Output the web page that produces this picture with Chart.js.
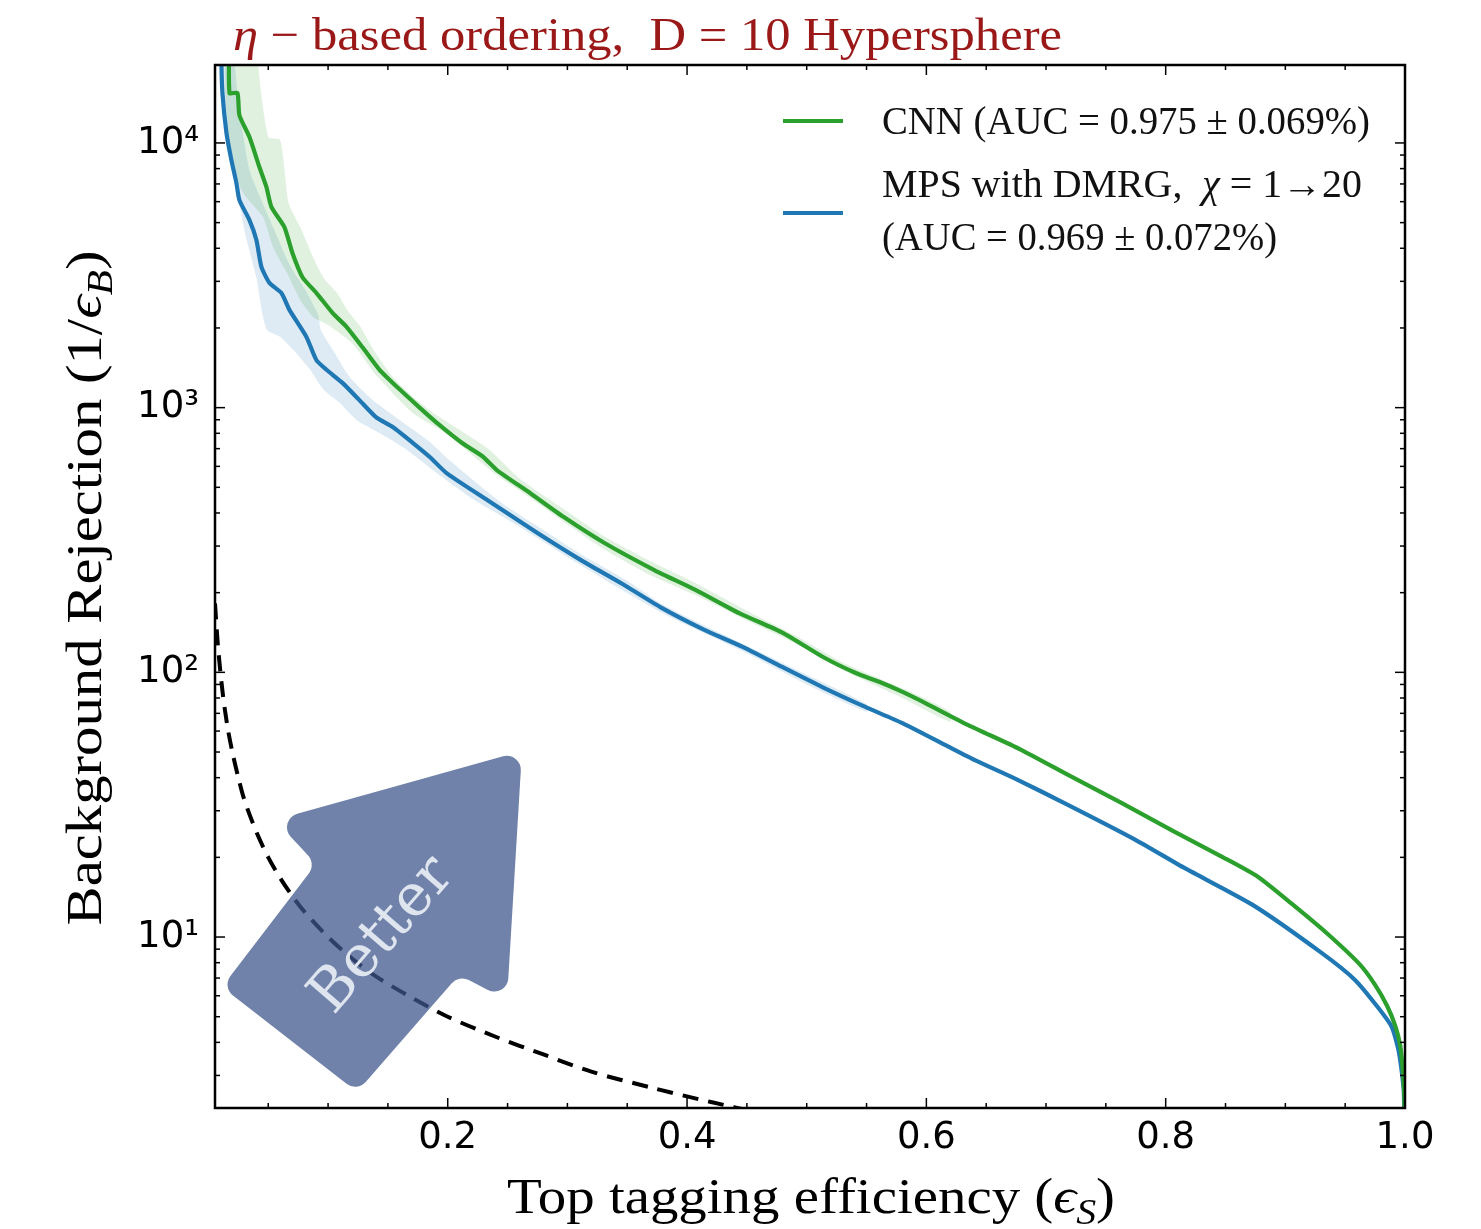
<!DOCTYPE html>
<html><head><meta charset="utf-8">
<script src="https://cdn.jsdelivr.net/npm/chart.js@4.4.0/dist/chart.umd.min.js"></script>
<style>html,body{margin:0;padding:0;background:#fff;}#wrap{width:1481px;height:1229px;position:relative;}</style>
</head><body><div id="wrap"><canvas id="c" width="1481" height="1229"></canvas></div>
<script>
// ---------------- data ----------------
const xTicks = [0.2, 0.4, 0.6, 0.8, 1.0];
const yTicks = [10, 100, 1000, 10000];

const cnnLabel = 'CNN (AUC = 0.975 ± 0.069%)';
const mpsLabel = 'MPS with DMRG,  χ = 1→20 (AUC = 0.969 ± 0.072%)';

const cnnEff = [0.0176,0.0176,0.0242,0.0259,0.0343,0.0426,0.0485,0.0527,0.0635,0.0702,0.0786,0.0903,0.1037,0.1154,0.1288,0.143,0.160,0.176,0.193,0.212,0.229,0.241,0.269,0.297,0.331,0.373,0.407,0.444,0.480,0.514,0.541,0.561,0.581,0.598,0.635,0.678,0.720,0.763,0.806,0.848,0.877,0.905,0.934,0.962,0.975,0.985,0.992,0.996,0.998,0.9995,1.0];
const cnnRej = [30000,15450,15450,12730,10520,8110,6810,5720,4810,3840,3110,2710,2280,2020,1690,1390,1170,1005,860,735,655,581,475,386,308,243,205,167,141,114,99.4,91.9,84,77,63.2,51.3,40.6,32.1,25.2,20.0,16.9,13.4,10.4,7.9,6.6,5.5,4.6,3.9,3.2,2.5,1.0];

const mpsEff = [0.0105,0.0109,0.0117,0.0151,0.0192,0.0234,0.0259,0.0343,0.0401,0.0443,0.0510,0.0610,0.0677,0.0819,0.0903,0.0987,0.112,0.126,0.140,0.154,0.171,0.185,0.199,0.233,0.275,0.311,0.345,0.378,0.414,0.446,0.479,0.513,0.549,0.580,0.618,0.641,0.675,0.717,0.774,0.816,0.873,0.930,0.958,0.977,0.989,0.995,0.999,1.0];
const mpsRej = [30000,19700,15450,10890,8610,7050,6080,5110,4300,3400,2960,2710,2340,1850,1510,1390,1240,1070,921,845,735,651,566,448,336,266,217,176,145,125,105,88,74,64.3,52.5,46.5,39.5,31.8,23.4,18.2,13.2,8.73,6.90,5.45,4.57,3.65,2.6,1.0];

const cnnBandUpEff = [0.0416,0.0416,0.050,0.060,0.067,0.0767,0.0875,0.0959,0.1075,0.116,0.127,0.138,0.154,0.171,0.188,0.210,0.235,0.26,0.30,0.33,0.37,0.41,0.45,0.49,0.53,0.58,0.62];
const cnnBandUpRej = [30000,19700,10520,10250,5930,4810,3700,3110,2710,2340,2020,1650,1305,1097,955,823,692,540,405,328,262,214,171,138,109,87,71];
const cnnBandLoEff = [0.0139,0.0139,0.0197,0.0289,0.0456,0.054,0.0656,0.0767,0.0875,0.10,0.12,0.14,0.17,0.20,0.24,0.27,0.30,0.33,0.37,0.41,0.45,0.49,0.53,0.58,0.62];
const cnnBandLoRej = [30000,15450,8610,6470,5250,4040,3230,2550,2200,2050,1750,1330,960,790,560,453,363,293,232,193,157,129,102,80,65];

const mpsBandUpEff = [0.0222,0.0222,0.026,0.0343,0.0443,0.055,0.068,0.081,0.0918,0.094,0.104,0.118,0.137,0.160,0.183,0.202,0.244,0.28,0.31,0.35,0.38,0.42,0.45,0.50,0.55];
const mpsBandUpRej = [30000,19700,13300,7900,6080,4690,3460,2780,2240,1960,1650,1305,1070,897,755,630,440,345,282,222,180,146,126,98,76];
const mpsBandLoEff = [0.0105,0.0105,0.0113,0.0163,0.024,0.032,0.040,0.045,0.049,0.060,0.071,0.085,0.096,0.110,0.124,0.143,0.166,0.19,0.22,0.26,0.30,0.34,0.38,0.42,0.45,0.50,0.55];
const mpsBandLoRej = [30000,19700,13300,10000,6470,4300,3110,2280,1960,1850,1650,1390,1170,1040,897,802,692,570,455,355,273,212,167,137,118,90,71];

const randomEff = [0.0055,0.008,0.012,0.016,0.02,0.025,0.03,0.04,0.05,0.06,0.07,0.08,0.1,0.12,0.14,0.17,0.2,0.24,0.28,0.32,0.37,0.42,0.46];
const randomRej = [182,125,83,62,50,40,33,25,20,16.7,14.3,12.5,10,8.3,7.1,5.9,5,4.2,3.6,3.1,2.7,2.38,2.17];

// ---------------- helpers ----------------
const pts = (xs, ys) => xs.map((x, i) => ({x: x, y: ys[i]}));
const band = (ux, uy, lx, ly) => pts(ux, uy).concat(pts(lx, ly).reverse());
const SERIF = '"Liberation Serif", "DejaVu Serif", serif';
const SUP = {'0':'⁰','1':'¹','2':'²','3':'³','4':'⁴','5':'⁵','6':'⁶','7':'⁷','8':'⁸','9':'⁹'};

function richWidth(ctx, parts, size) {
  let w = 0;
  for (const p of parts) {
    const s = p.sub ? size * 0.7 : size;
    ctx.font = (p.it ? 'italic ' : '') + s + 'px ' + SERIF;
    w += ctx.measureText(p.t).width;
  }
  return w;
}
function drawRich(ctx, parts, x, y, size, align, color, target) {
  const w = richWidth(ctx, parts, size);
  const sx = target ? target / w : 1;
  const total = w * sx;
  const x0 = align === 'center' ? x - total / 2 : x;
  ctx.save();
  ctx.translate(x0, y);
  ctx.scale(sx, 1);
  ctx.fillStyle = color;
  ctx.textBaseline = 'alphabetic';
  ctx.textAlign = 'left';
  let cx = 0;
  for (const p of parts) {
    const s = p.sub ? size * 0.7 : size;
    ctx.font = (p.it ? 'italic ' : '') + s + 'px ' + SERIF;
    ctx.fillText(p.t, cx, p.sub ? size * 0.22 : 0);
    cx += ctx.measureText(p.t).width;
  }
  ctx.restore();
}
function roundedPoly(ctx, P, r) {
  const n = P.length;
  ctx.beginPath();
  ctx.moveTo((P[n-1][0] + P[0][0]) / 2, (P[n-1][1] + P[0][1]) / 2);
  for (let i = 0; i < n; i++) {
    const a = P[i], b = P[(i + 1) % n];
    ctx.arcTo(a[0], a[1], b[0], b[1], r);
  }
  ctx.closePath();
}

// ---------------- decorations plugin ----------------
const deco = {
  id: 'deco',
  afterDatasetsDraw(chart) {
    const ctx = chart.ctx, ca = chart.chartArea;
    const L = ca.left, B = ca.bottom;
    const arrow = [[307,-357],[292,-108],[244,-133],[142,-16],[7,-121],[101,-244],[60,-288]];
    ctx.save();
    ctx.beginPath(); ctx.rect(ca.left, ca.top, ca.width, ca.height); ctx.clip();
    roundedPoly(ctx, arrow.map(p => [L + p[0], B + p[1]]), 14);
    ctx.fillStyle = 'rgba(62,86,140,0.74)';
    ctx.fill();
    ctx.translate(L + 168, B - 172);
    ctx.rotate(-49 * Math.PI / 180);
    ctx.font = '58px "DejaVu Serif", serif';
    ctx.fillStyle = '#dfe5ef';
    ctx.textAlign = 'center'; ctx.textBaseline = 'middle';
    ctx.fillText('Better', 0, 0);
    ctx.restore();
  },
  afterDraw(chart) {
    const ctx = chart.ctx, ca = chart.chartArea;
    const xs = chart.scales.x, ys = chart.scales.y;
    ctx.save();
    ctx.strokeStyle = '#000';
    ctx.lineWidth = 1.5;
    const tick = (x1, y1, x2, y2) => { ctx.beginPath(); ctx.moveTo(x1, y1); ctx.lineTo(x2, y2); ctx.stroke(); };
    for (let k = 1; k <= 20; k++) {
      const v = k * 0.05;
      const len = (k % 4 === 0) ? 10 : 5;
      const px = xs.getPixelForValue(v);
      if (px < ca.left || px > ca.right + 0.5) continue;
      tick(px, ca.bottom, px, ca.bottom - len);
      tick(px, ca.top, px, ca.top + len);
    }
    for (let e = 0; e <= 4; e++) {
      for (let m = 1; m <= 9; m++) {
        const v = m * Math.pow(10, e);
        if (v < ys.min || v > ys.max) continue;
        const py = ys.getPixelForValue(v);
        const len = m === 1 ? 10 : 5;
        tick(ca.left, py, ca.left + len, py);
        tick(ca.right, py, ca.right - len, py);
      }
    }
    ctx.lineWidth = 2.5;
    ctx.strokeRect(ca.left, ca.top, ca.right - ca.left, ca.bottom - ca.top);

    drawRich(ctx, [{t:'η', it:true}, {t:' − based ordering,  D = 10 Hypersphere'}], ca.left + 18, 50, 46, 'left', '#9a1818', 829);
    drawRich(ctx, [{t:'Top tagging efficiency ('}, {t:'ϵ', it:true}, {t:'S', it:true, sub:true}, {t:')'}], 811, 1213, 50, 'center', '#000', 608);
    ctx.save();
    ctx.translate(101, 588);
    ctx.rotate(-Math.PI / 2);
    drawRich(ctx, [{t:'Background Rejection (1/'}, {t:'ϵ', it:true}, {t:'B', it:true, sub:true}, {t:')'}], 0, 0, 50, 'center', '#000', 675);
    ctx.restore();

    const ds = chart.data.datasets;
    ctx.lineWidth = 4;
    ctx.strokeStyle = ds[0].borderColor;
    tick(783, 121, 843, 121);
    ctx.strokeStyle = ds[1].borderColor;
    tick(783, 213, 843, 213);
    drawRich(ctx, [{t:'CNN (AUC = 0.975 ± 0.069%)'}], 882, 134, 39, 'left', '#111', 488);
    drawRich(ctx, [{t:'MPS with DMRG,  '}, {t:'χ', it:true}, {t:' = 1→20'}], 882, 197, 39, 'left', '#111', 480);
    drawRich(ctx, [{t:'(AUC = 0.969 ± 0.072%)'}], 882, 250, 39, 'left', '#111', 395);
    ctx.restore();
  }
};

// ---------------- chart ----------------
new Chart(document.getElementById('c'), {
  type: 'line',
  data: {
    datasets: [
      { label: cnnLabel, data: pts(cnnEff, cnnRej), borderColor: '#2ca02c', borderWidth: 4.2, pointRadius: 0, tension: 0.2, fill: false, order: 1 },
      { label: mpsLabel, data: pts(mpsEff, mpsRej), borderColor: '#1f77b4', borderWidth: 4.2, pointRadius: 0, tension: 0.2, fill: false, order: 1 },
      { label: 'CNN band', data: band(cnnBandUpEff, cnnBandUpRej, cnnBandLoEff, cnnBandLoRej), borderColor: 'rgba(0,0,0,0)', borderWidth: 0, backgroundColor: 'rgba(44,160,44,0.15)', pointRadius: 0, tension: 0.2, fill: 'shape', order: 3 },
      { label: 'MPS band', data: band(mpsBandUpEff, mpsBandUpRej, mpsBandLoEff, mpsBandLoRej), borderColor: 'rgba(0,0,0,0)', borderWidth: 0, backgroundColor: 'rgba(31,119,180,0.15)', pointRadius: 0, tension: 0.2, fill: 'shape', order: 3 },
      { label: 'Random', data: pts(randomEff, randomRej), borderColor: '#000', borderWidth: 4, borderDash: [16, 10], pointRadius: 0, tension: 0.3, fill: false, order: 2 }
    ]
  },
  options: {
    responsive: false,
    animation: false,
    events: [],
    layout: { padding: { left: 0, right: 76, top: 65, bottom: 0 } },
    plugins: { legend: { display: false }, tooltip: { enabled: false }, title: { display: false } },
    scales: {
      x: {
        type: 'linear', min: 0.0055, max: 1.0,
        grid: { display: false, drawTicks: false }, border: { display: false },
        ticks: { color: '#000', font: { family: '"DejaVu Sans", sans-serif', size: 37 }, padding: 8, maxRotation: 0, autoSkip: false,
                 callback: v => v.toFixed(1) },
        afterBuildTicks: s => { s.ticks = xTicks.map(v => ({ value: v })); },
        afterFit: s => { s.height = 121; }
      },
      y: {
        type: 'logarithmic', min: 2.26, max: 19700,
        grid: { display: false, drawTicks: false }, border: { display: false },
        ticks: { color: '#000', font: { family: '"DejaVu Sans", sans-serif', size: 37 }, padding: 16, autoSkip: false,
                 callback: v => '10' + String(Math.round(Math.log10(v))).split('').map(c => SUP[c]).join('') },
        afterBuildTicks: s => { s.ticks = yTicks.map(v => ({ value: v })); },
        afterFit: s => { s.width = 215; }
      }
    }
  },
  plugins: [deco]
});
</script></body></html>
